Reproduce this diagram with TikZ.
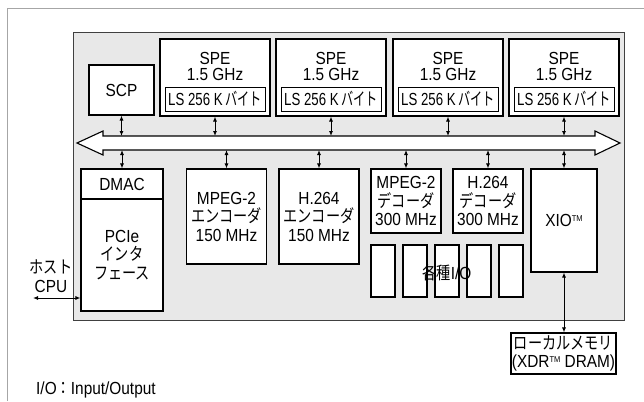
\documentclass[tikz,border=0pt]{standalone}
\usepackage{fontspec}
\usepackage{graphicx}
\setmainfont{Liberation Sans}[FakeStretch=0.88]
\newfontfamily\jp{Noto Sans CJK JP}[FakeStretch=0.81]
\newcommand\tmark{\raisebox{5pt}{\fontsize{8.5}{8.5}\selectfont TM}}
\usetikzlibrary{arrows.meta}

\begin{document}
\begin{tikzpicture}[x=1pt, y=-1pt,
    every node/.style={font=\fontsize{17.5}{18.5}\selectfont, inner sep=0pt},
    box/.style={draw, line width=1.1pt, fill=white, align=center},
    iobox/.style={box, minimum width=24pt, minimum height=52pt},
    bio/.style={{Latex[length=5pt,width=4pt]}-{Latex[length=5pt,width=4pt]}, line width=0.9pt}]
  \useasboundingbox (0,0) rectangle (644,401);
  % frame and chip
  \draw[gray!70, line width=0.8pt] (7,401) -- (7,8) -- (644,8);
  \draw[fill=gray!18, draw=black!75, line width=0.9pt] (73,32) rectangle (624,320);
  % bus
  \draw[fill=white, line width=1.1pt] (77,143) -- (103,131) -- (103,136) -- (595,136)
    -- (595,131) -- (620,143) -- (595,155) -- (595,150) -- (103,150) -- (103,155) -- cycle;
  \coordinate (busT) at (0,136);
  \coordinate (busB) at (0,150);

  % upper row
  \node[box, minimum width=65pt, minimum height=50pt] (scp) at (121.5,90) {SCP};
  \draw[bio] (scp) -- (scp |- busT);
  \foreach \i/\x in {1/215,2/331,3/448,4/564} {
    \node[box, minimum width=110pt, minimum height=77pt] (spe\i) at (\x,77.5) {};
    \node[align=center, font=\fontsize{17.5}{16}\selectfont] (spet\i) at (\x,66) {SPE\\1.5 GHz};
    \node[box, line width=0.8pt, minimum width=100pt, minimum height=24pt] (ls\i) at (\x,99)
      {\scalebox{0.86}[1]{LS 256 K\,{\jp バイト}}};
    \draw[bio] (spe\i) -- (spe\i |- busT);
  }

  % lower row
  \node[box, minimum width=82pt, minimum height=30pt] (dmac) at (122,184) {DMAC};
  \node[box, minimum width=82pt, minimum height=112pt] (pcie) at (122,255)
    {PCIe\\{\jp インタ}\\{\jp フェース}};
  \node[box, minimum width=80pt, minimum height=95pt] (mpenc) at (226.5,216.5)
    {MPEG-2\\{\jp エンコーダ}\\150 MHz};
  \node[box, minimum width=80pt, minimum height=95pt] (henc) at (319,216.5)
    {H.264\\{\jp エンコーダ}\\150 MHz};
  \node[box, minimum width=70pt, minimum height=64pt] (mpdec) at (406,201)
    {MPEG-2\\{\jp デコーダ}\\300 MHz};
  \node[box, minimum width=70pt, minimum height=64pt] (hdec) at (488,201)
    {H.264\\{\jp デコーダ}\\300 MHz};
  \node[box, minimum width=66pt, minimum height=103pt] (xio) at (564,220.5) {XIO\tmark};
  \foreach \n in {dmac,mpenc,henc,mpdec,hdec,xio}
    \draw[bio] (\n) -- (\n |- busB);

  \foreach \i/\x in {1/383,2/415,3/447,4/479,5/511}
    \node[iobox] (io\i) at (\x,271) {};
  \node (iotxt) at (447,273) {{\jp 各種}I/O};

  % outside the chip
  \node[box, minimum width=105pt, minimum height=41pt] (lmem) at (563.5,353.5)
    {{\jp ローカルメモリ}\\(XDR\tmark{} DRAM)};
  \draw[bio] (xio.south) -- (xio.south |- lmem.north);
  \node[align=center, font=\fontsize{17.5}{19}\selectfont] (host) at (51,276) {{\jp ホスト}\\CPU};
  \coordinate (hostend) at (33,298);
  \draw[bio] (hostend) -- (pcie.west |- hostend);
  \node[anchor=west] (note) at (36,390) {I/O{\jp ：}Input/Output};
\end{tikzpicture}
\end{document}
